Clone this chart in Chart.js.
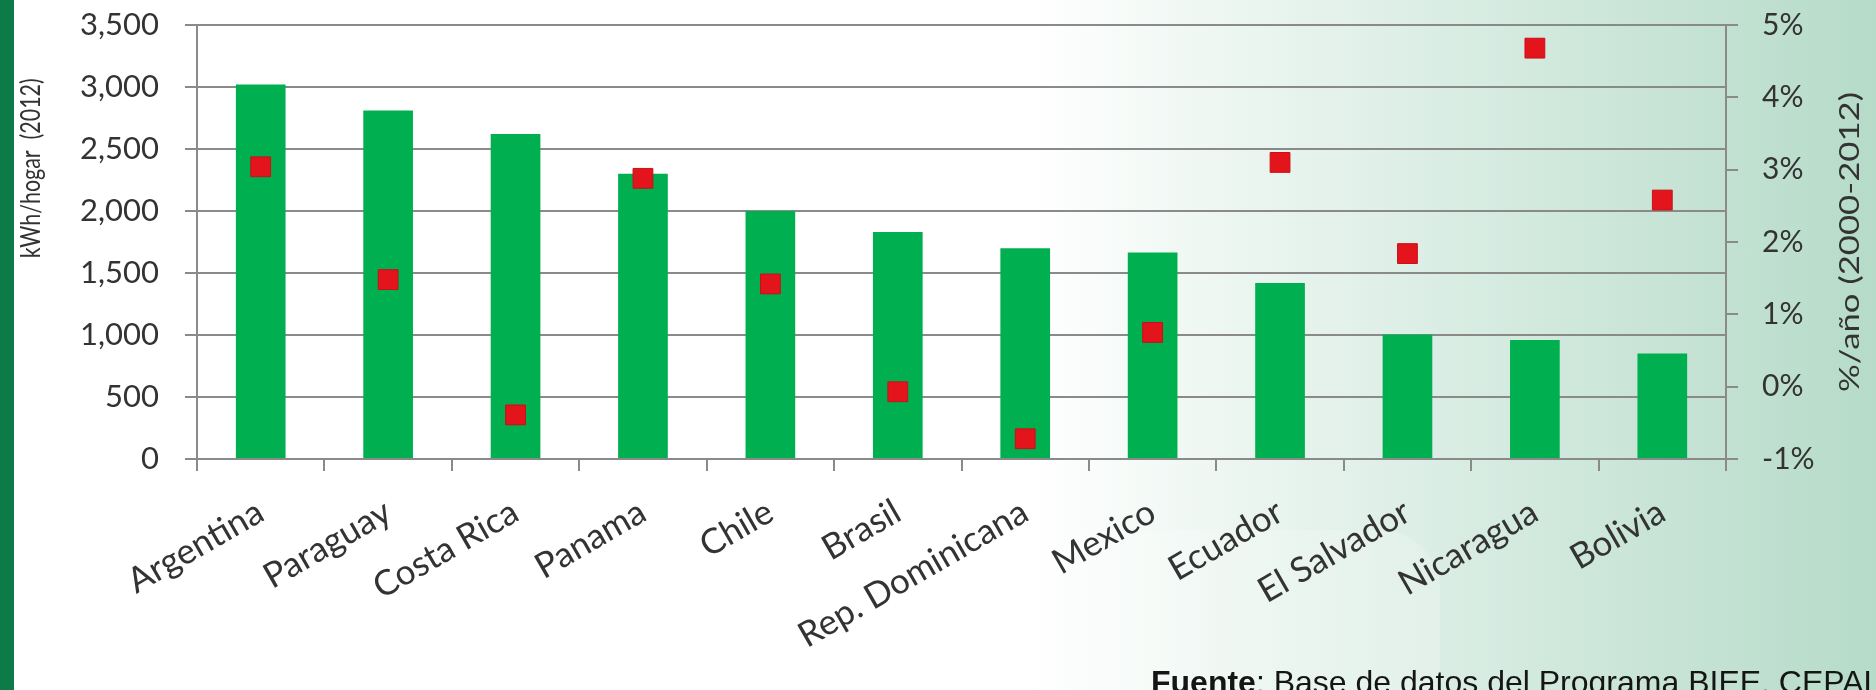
<!DOCTYPE html>
<html>
<head>
<meta charset="utf-8">
<script src="https://cdn.jsdelivr.net/npm/chart.js@4.4.1/dist/chart.umd.min.js"></script>
<style>
  html, body { margin: 0; padding: 0; }
  body {
    width: 1876px; height: 690px; overflow: hidden; position: relative;
    background: linear-gradient(90deg, #ffffff 0%, #ffffff 55%, #eaf5ef 67%, #d2e9de 82%, #b6dbc9 100%);
  }
  #stripe { position: absolute; left: 0; top: 0; width: 14px; height: 690px; background: #0c7b47; }
  #dome {
    position: absolute; left: 1030px; top: 530px; width: 410px; height: 200px;
    border-radius: 60px 60px 0 0; background: rgba(255, 255, 255, 0.2);
  }
  #wrap { position: absolute; left: 0; top: 0; width: 1876px; height: 690px; }
</style>
</head>
<body>
<div id="stripe"></div>
<div id="dome"></div>
<div id="wrap"><canvas id="chart"></canvas></div>
<script>
const countries = ["Argentina", "Paraguay", "Costa Rica", "Panama", "Chile", "Brasil",
  "Rep. Dominicana", "Mexico", "Ecuador", "El Salvador", "Nicaragua", "Bolivia"];
// kWh/hogar (2012)
const consumption = [3020, 2810, 2620, 2300, 2000, 1830, 1700, 1665, 1420, 1005, 960, 850];
// %/año (2000-2012)
const growth = [3.04, 1.48, -0.39, 2.88, 1.42, -0.07, -0.72, 0.75, 3.10, 1.84, 4.68, 2.58];

const kwhTicks = ["0", "500", "1,000", "1,500", "2,000", "2,500", "3,000", "3,500"];
const pctTicks = ["-1%", "0%", "1%", "2%", "3%", "4%", "5%"];

const leftTitle = "kWh/hogar  (2012)";
const rightTitle = "%/año (2000-2012)";
const sourceBold = "Fuente";
const sourceRest = ": Base de datos del Programa BIEE, CEPAL";

const gridColor = "#8a8a8a";
const textColor = "#333333";

// draws a rotated title squeezed/stretched to a given length
function drawTitle(ctx, text, x, y, len) {
  ctx.save();
  ctx.fillStyle = textColor;
  ctx.font = "27px Lato";
  ctx.textAlign = "center";
  ctx.textBaseline = "middle";
  const w = ctx.measureText(text).width;
  ctx.translate(x, y);
  ctx.rotate(-Math.PI / 2);
  ctx.scale(len / w, 1);
  ctx.fillText(text, 0, 0);
  ctx.restore();
}

// fixed axis sizes so the plot area sits where the original one does
function fixSide(width) {
  return (scale) => {
    scale.width = width;
    scale.paddingTop = 0;
    scale.paddingBottom = 0;
  };
}

const decor = {
  id: "decor",
  afterDraw(chart) {
    const { ctx, chartArea } = chart;
    const h = chartArea.bottom - chartArea.top;

    drawTitle(ctx, leftTitle, 31, chartArea.top + h * 0.33, 180);
    drawTitle(ctx, rightTitle, 1850, chartArea.top + h * 0.5, 300);

    // source line, cut by the bottom edge
    ctx.save();
    ctx.fillStyle = "#151515";
    ctx.textBaseline = "top";
    ctx.font = 'bold 32px "Liberation Sans"';
    ctx.fillText(sourceBold, 1151, 668);
    const bw = ctx.measureText(sourceBold).width;
    ctx.font = '32px "Liberation Sans"';
    ctx.fillText(sourceRest, 1151 + bw, 668);
    ctx.restore();
  }
};

new Chart(document.getElementById("chart"), {
  type: "bar",
  data: {
    labels: countries,
    datasets: [
      {
        type: "line",
        label: "%/año",
        data: growth,
        yAxisID: "y1",
        showLine: false,
        pointStyle: "rect",
        pointRadius: 14,
        pointHoverRadius: 14,
        backgroundColor: "#e3141c",
        borderColor: "#c81018",
        borderWidth: 1,
        order: 0
      },
      {
        label: "kWh/hogar",
        data: consumption,
        yAxisID: "y",
        backgroundColor: "#00b050",
        barPercentage: 0.39,
        categoryPercentage: 1.0,
        order: 1
      }
    ]
  },
  options: {
    responsive: true,
    maintainAspectRatio: false,
    animation: false,
    layout: { padding: { top: 25, left: 0, right: 0, bottom: 0 } },
    plugins: {
      legend: { display: false },
      tooltip: { enabled: false }
    },
    scales: {
      x: {
        afterFit(scale) { scale.height = 231; },
        grid: { drawOnChartArea: false, color: gridColor, lineWidth: 2, tickLength: 12, offset: true },
        border: { color: gridColor, width: 2 },
        ticks: {
          color: textColor, font: { family: "Lato", size: 35 }, autoSkip: false,
          maxRotation: 30, minRotation: 30, padding: 20
        }
      },
      y: {
        position: "left",
        min: 0, max: 3500,
        afterFit: fixSide(197),
        grid: { color: gridColor, lineWidth: 2, tickLength: 12 },
        border: { color: gridColor, width: 2 },
        ticks: {
          stepSize: 500, color: textColor, font: { family: "Lato", size: 31 }, padding: 26,
          callback: (v, i) => kwhTicks[i]
        }
      },
      y1: {
        position: "right",
        min: -1, max: 5,
        afterFit: fixSide(150),
        grid: { drawOnChartArea: false, color: gridColor, lineWidth: 2, tickLength: 12 },
        border: { color: gridColor, width: 2 },
        ticks: {
          stepSize: 1, color: textColor, font: { family: "Lato", size: 30 }, padding: 24,
          callback: (v, i) => pctTicks[i]
        }
      }
    }
  },
  plugins: [decor]
});
</script>
</body>
</html>
